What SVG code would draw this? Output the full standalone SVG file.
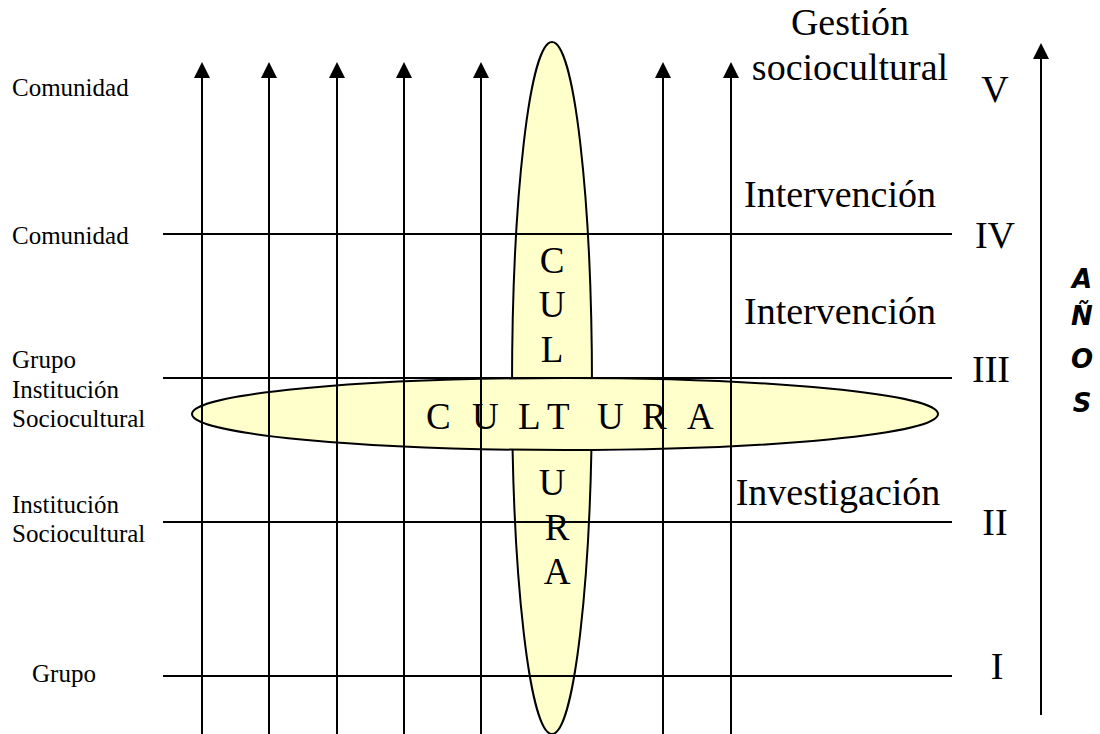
<svg xmlns="http://www.w3.org/2000/svg" width="1100" height="734" viewBox="0 0 1100 734">
<style>
.s{font-family:"Liberation Serif","Times New Roman",serif;font-size:25px;fill:#000}
.b{font-family:"Liberation Serif","Times New Roman",serif;font-size:38px;fill:#000}
.n{font-family:"Liberation Serif","Times New Roman",serif;font-size:37px;fill:#000}
.a{font-family:"DejaVu Sans",sans-serif;font-size:26px;font-weight:bold;font-style:oblique;fill:#000}
.ln{stroke:#000;stroke-width:2;fill:none}
.el{fill:#FFFFCC;stroke:#000;stroke-width:2}
</style>
<defs>
<marker id="ah" markerWidth="8" markerHeight="8" refX="0" refY="4" orient="auto" markerUnits="strokeWidth" viewBox="0 0 8 8">
<path d="M0,0 L8,4 L0,8 Z" fill="#000"/>
</marker>
</defs>
<g id="cultura-vertical"><ellipse class="el" cx="552" cy="388" rx="40" ry="346"/></g>
<g id="cultura-horizontal"><ellipse class="el" cx="565" cy="414" rx="373" ry="36"/></g>
<g id="connectors">
<line class="ln" x1="163" y1="234" x2="952" y2="234"/>
<line class="ln" x1="163" y1="378" x2="952" y2="378"/>
<line class="ln" x1="163" y1="522" x2="952" y2="522"/>
<line class="ln" x1="163" y1="676" x2="952" y2="676"/>
<line class="ln" x1="202" y1="734" x2="202" y2="78" marker-end="url(#ah)"/>
<line class="ln" x1="269" y1="734" x2="269" y2="78" marker-end="url(#ah)"/>
<line class="ln" x1="337" y1="734" x2="337" y2="78" marker-end="url(#ah)"/>
<line class="ln" x1="404" y1="734" x2="404" y2="78" marker-end="url(#ah)"/>
<line class="ln" x1="481" y1="734" x2="481" y2="78" marker-end="url(#ah)"/>
<line class="ln" x1="663" y1="734" x2="663" y2="78" marker-end="url(#ah)"/>
<line class="ln" x1="731" y1="734" x2="731" y2="78" marker-end="url(#ah)"/>
<line class="ln" x1="1041" y1="715" x2="1041" y2="59" marker-end="url(#ah)"/>
</g>
<g id="left-labels">
<text class="s" x="12" y="96">Comunidad</text>
<text class="s" x="12" y="244">Comunidad</text>
<text class="s" x="12" y="368">Grupo</text>
<text class="s" x="12" y="398">Institución</text>
<text class="s" x="12" y="427">Sociocultural</text>
<text class="s" x="12" y="513">Institución</text>
<text class="s" x="12" y="542">Sociocultural</text>
<text class="s" x="32" y="682">Grupo</text>
</g>
<g id="phase-labels">
<text class="b" x="850" y="35" text-anchor="middle">Gestión</text>
<text class="b" x="850" y="80" text-anchor="middle">sociocultural</text>
<text class="b" x="840" y="207" text-anchor="middle">Intervención</text>
<text class="b" x="840" y="324" text-anchor="middle">Intervención</text>
<text class="b" x="838" y="505" text-anchor="middle">Investigación</text>
</g>
<g id="levels">
<text class="b" x="995" y="102" text-anchor="middle">V</text>
<text class="b" x="995" y="248" text-anchor="middle">IV</text>
<text class="b" x="991" y="382" text-anchor="middle">III</text>
<text class="b" x="995" y="535" text-anchor="middle">II</text>
<text class="b" x="997" y="679" text-anchor="middle">I</text>
</g>
<g id="cultura-text">
<text class="n" x="552" y="273" text-anchor="middle">C</text>
<text class="n" x="552" y="317" text-anchor="middle">U</text>
<text class="n" x="552" y="362" text-anchor="middle">L</text>
<text class="n" x="426 472 518 547 597 642 687" y="429">CULTURA</text>
<text class="n" x="552" y="495" text-anchor="middle">U</text>
<text class="n" x="557" y="540" text-anchor="middle">R</text>
<text class="n" x="557" y="584" text-anchor="middle">A</text>
</g>
<g id="anos">
<text class="a" x="1082" y="288" text-anchor="middle">A</text>
<text class="a" x="1082" y="325" text-anchor="middle">Ñ</text>
<text class="a" x="1082" y="368" text-anchor="middle">O</text>
<text class="a" x="1082" y="412" text-anchor="middle">S</text>
</g>
</svg>
